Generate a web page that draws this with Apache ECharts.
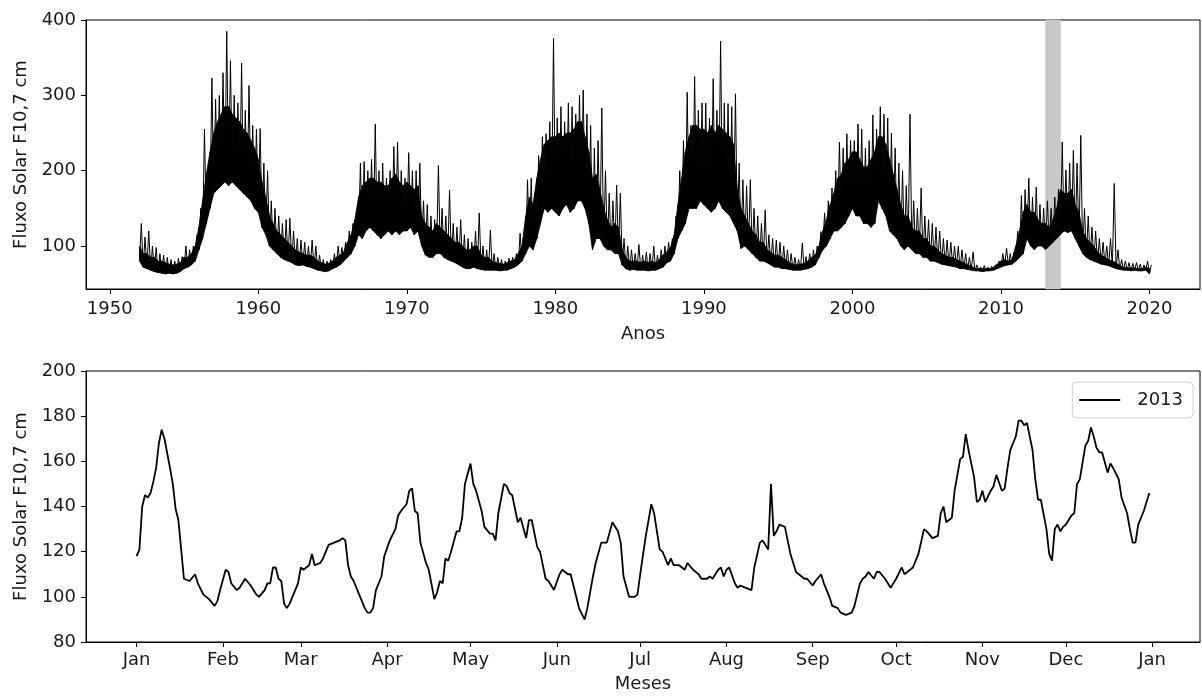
<!DOCTYPE html>
<html>
<head>
<meta charset="utf-8">
<script src="https://cdn.jsdelivr.net/npm/echarts@6/dist/echarts.min.js"></script>
<style>
html,body{margin:0;padding:0;background:#fff;}
#chart{width:1202px;height:696px;}
</style>
</head>
<body>
<div id="chart"></div>
<script>
// ---------- Top panel: daily F10.7 flux 1952-2020, summarised per quarter ----------
// fluxLow: lower edge of the daily trace, fluxBody: upper edge of its dense body,
// fluxHigh: highest daily spike in the quarter
var quarterStartYear = 1952;
var quarterStep = 0.25;
var fluxLow = [
  80,72,70,68,  66,65,64,63,  64,63,64,66,  70,72,75,80,  95,110,130,150,
  170,175,180,185,  180,185,180,175,  170,165,160,150,  145,125,115,100,  95,90,85,82,
  80,78,75,74,  75,73,72,70,  68,67,66,67,  70,72,75,80,  85,90,100,115,
  110,120,125,120,  115,110,115,120,  115,120,115,120,  120,125,115,120,  100,88,85,85,
  90,90,85,82,  80,78,75,72,  70,70,72,70,  69,68,68,68,  68,67,68,68,
  70,72,75,80,  90,100,95,110,  130,150,145,150,  145,140,150,155,  145,150,160,160,
  150,130,95,110,  110,100,95,95,  90,90,75,70,  68,69,68,68,  68,67,68,68,
  70,72,78,80,  90,110,120,130,  150,150,150,160,  155,150,145,150,  160,150,145,140,
  130,120,97,100,  95,90,85,80,  80,78,75,72,  72,70,70,69,  68,68,68,69,
  70,72,75,85,  95,100,110,120,  120,125,130,140,  150,140,140,130,  130,125,130,160,
  150,140,120,115,  110,100,95,100,  95,90,90,85,  85,80,80,78,  76,75,74,73,
  72,70,70,69,  68,67,67,66,  67,67,68,70,  72,74,75,76,  80,85,90,110,
  100,95,100,100,  95,100,105,110,  115,120,118,120,  110,100,90,85,  82,80,78,76,
  75,74,72,70,  69,68,68,67,  68,67,67,68,  63
];
var fluxBody = [
  100,90,90,85,  85,80,80,78,  76,75,76,78,  85,85,90,100,  125,160,195,225,
  250,265,275,285,  285,275,270,265,  255,250,240,230,  215,185,165,140,  130,120,115,110,
  105,100,95,92,  90,88,88,85,  80,78,76,77,  80,85,88,92,  105,115,135,165,
  180,185,190,190,  185,185,180,180,  190,195,185,180,  185,180,175,180,  140,130,125,120,
  130,125,120,115,  110,105,105,100,  95,95,100,100,  88,85,85,80,  78,77,76,78,
  80,82,90,100,  140,165,155,190,  215,235,240,245,  245,250,245,250,  250,255,265,265,
  245,225,190,195,  175,150,135,125,  130,125,95,85,  80,80,80,78,  80,78,80,78,
  82,88,92,98,  115,155,190,225,  245,260,260,255,  255,250,260,250,  260,255,250,245,
  235,175,150,140,  130,120,115,105,  105,95,92,88,  88,85,82,78,  76,75,76,77,
  80,85,88,100,  120,135,155,170,  190,195,210,215,  225,225,215,205,  205,215,225,245,
  245,235,215,195,  175,155,140,140,  125,120,120,110,  110,100,100,95,  90,88,85,85,
  82,80,78,75,  74,70,70,70,  70,70,72,76,  80,82,80,82,  100,120,145,155,
  145,145,135,130,  130,125,135,150,  175,170,170,175,  155,145,120,110,  105,100,92,88,
  85,82,80,78,  74,72,71,71,  71,70,70,72,  70
];
var fluxHigh = [
  130,112,120,100,  98,90,88,85,  82,80,84,86,  100,95,100,115,  150,255,200,323,
  295,300,330,385,  346,300,290,343,  280,313,260,255,  256,210,200,160,  150,140,130,135,
  137,120,110,108,  105,100,108,100,  88,82,80,82,  90,100,98,105,  120,130,145,210,
  212,200,215,262,  200,210,190,200,  232,238,200,190,  224,200,200,210,  160,155,140,135,
  207,150,140,174,  130,125,135,115,  110,105,120,144,  100,95,121,90,  85,82,80,84,
  85,90,117,110,  188,190,170,220,  245,249,265,376,  270,285,265,290,  285,275,300,307,
  275,260,230,240,  283,200,170,160,  181,170,110,100,  95,90,102,88,  92,90,100,88,
  95,100,105,110,  140,200,240,304,  260,325,280,290,  290,270,322,280,  372,290,289,285,
  302,210,188,180,  188,150,140,130,  148,115,110,108,  105,100,95,90,  85,82,104,86,
  90,95,100,119,  144,160,177,200,  238,230,249,240,  240,262,255,230,  240,274,255,285,
  275,270,250,230,  210,200,180,275,  160,150,177,140,  135,130,125,120,  110,108,105,100,
  100,95,90,85,  92,75,72,74,  72,73,75,80,  90,97,90,92,  120,167,175,190,
  165,178,155,150,  160,150,165,175,  238,201,210,227,  210,247,150,140,  125,120,110,105,
  100,110,183,95,  82,80,78,77,  78,76,75,80,  75
];
var yearTicks = [1950, 1960, 1970, 1980, 1990, 2000, 2010, 2020];
var topYTicks = [100, 200, 300, 400];
var topYRange = [43, 400];
var highlightYears = [2013, 2014];

// ---------- Bottom panel: 2013 daily values ----------
var days2013 = [
  0,1,2,3,4,5,6,7,8,9,10,12,13,14,15,16,17,19,21,22,24,26,28,29,30,32,33,34,36,37,39,41,43,44,46,47,48,49,50,51,52,53,54,55,56,58,59,60,62,63,64,66,67,68,69,71,73,74,75,76,77,78,80,82,83,84,85,86,88,89,91,93,94,95,97,98,99,
  100,101,102,104,105,107,108,109,110,111,112,113,115,116,117,118,120,121,122,124,125,127,128,129,130,132,133,134,135,137,138,140,141,142,144,145,147,148,150,152,153,155,156,158,159,161,162,164,165,167,169,171,173,174,175,177,179,180,181,183,185,186,187,188,189,191,192,193,195,197,198,
  200,202,203,205,206,207,209,210,211,212,213,215,216,217,219,221,222,224,225,227,228,229,230,231,233,235,237,239,240,241,243,244,246,247,249,250,252,253,255,257,258,260,261,262,263,265,266,267,269,271,273,275,276,277,278,279,281,283,284,286,288,289,290,291,293,294,296,297,298,299,
  301,302,303,304,305,307,308,309,311,312,313,314,316,317,318,319,320,322,323,324,325,327,328,329,330,331,332,333,334,336,337,338,339,341,342,343,344,345,346,347,349,350,351,353,354,356,357,358,359,360,362,364
];
var flux2013 = [
  118,121,140,145,144,146,151,157,168,174,170,157,150,139,134,121,108,107,110,106,101,99,96,98,103,112,111,106,103,104,108,105,101,100,103,106,106,113,113,108,107,97,95,97,100,106,113,112,114,119,114,115,117,120,123,124,125,126,125,114,109,107,101,95,93,93,95,103,109,118,125,130,136,138,141,147,148,
  138,137,124,115,112,99,102,107,106,117,116,120,129,129,135,150,159,150,147,138,131,128,128,125,137,150,149,146,145,133,135,126,134,134,122,120,108,107,103,110,112,110,110,100,95,90,95,109,115,124,124,133,129,124,109,100,100,101,110,127,141,137,129,121,120,114,117,114,114,112,115,
  112,110,108,108,109,108,112,113,109,112,113,106,104,105,104,103,113,124,125,121,150,127,129,132,131,119,111,109,108,108,105,107,110,106,100,96,95,93,92,93,96,106,108,109,111,108,111,111,108,104,108,113,110,111,112,113,119,130,129,126,127,137,140,133,135,147,161,162,172,165,
  153,142,143,147,142,147,149,154,147,148,157,165,171,178,178,176,177,165,152,143,143,130,119,116,130,132,129,131,132,136,137,150,152,167,169,175,171,166,164,164,155,159,157,152,144,137,130,124,124,132,138,146
];
var monthStarts = [0, 31, 59, 90, 120, 151, 181, 212, 243, 273, 304, 334, 365];
var monthNames = ['Jan','Feb','Mar','Apr','May','Jun','Jul','Aug','Sep','Oct','Nov','Dec','Jan'];
var bottomYTicks = [80, 100, 120, 140, 160, 180, 200];

// ---------- Build series data ----------
// one item per quarter: [t, low, body, high, tNext, lowNext, bodyNext]
var topItems = [];
for (var i = 0; i < fluxLow.length; i++) {
  var t = quarterStartYear + i * quarterStep;
  var last = (i + 1 >= fluxLow.length);
  topItems.push([
    t, fluxLow[i], fluxBody[i], fluxHigh[i],
    last ? t : t + quarterStep,
    last ? fluxLow[i] : fluxLow[i + 1],
    last ? fluxBody[i] : fluxBody[i + 1]
  ]);
}
var bottomData = days2013.map(function (d, k) { return [d, flux2013[k]]; });

var FONT = 'DejaVu Sans';
var TXT = '#1a1a1a';
var BAND = '#c8c8c8';

function renderTop(params, api) {
  var t = api.value(0), lo = api.value(1), bo = api.value(2), hi = api.value(3);
  var tn = api.value(4), lon = api.value(5), bon = api.value(6);
  var children = [];
  var tm = t + quarterStep / 2;
  // grey 2013 highlight, drawn only around the trace (above its top envelope and below its low edge)
  if (tn > t && t >= highlightYears[0] && tn <= highlightYears[1]) {
    children.push({type: 'polygon', z2: -100,
      shape: {points: [api.coord([t, topYRange[1]]), api.coord([tn, topYRange[1]]),
        api.coord([tn, bon]), api.coord([tm, hi]), api.coord([t, bo])]},
      style: {fill: BAND, stroke: BAND, lineWidth: 0.6}});
    children.push({type: 'polygon', z2: -100,
      shape: {points: [api.coord([t, lo]), api.coord([tn, lon]),
        api.coord([tn, topYRange[0]]), api.coord([t, topYRange[0]])]},
      style: {fill: BAND, stroke: BAND, lineWidth: 0.6}});
  }
  if (tn > t) {
    children.push({type: 'polygon', z2: 10,
      shape: {points: [api.coord([t, lo]), api.coord([tn, lon]), api.coord([tn, bon]), api.coord([t, bo])]},
      style: {fill: '#000', stroke: '#000', lineWidth: 0.8}});
  }
  var pts = [api.coord([t, lo]), api.coord([tm, hi])];
  if (tn > t) pts.push(api.coord([tn, lon]));
  children.push({type: 'polyline', z2: 20, shape: {points: pts},
    style: {fill: null, stroke: '#000', lineWidth: 1}});
  return {type: 'group', children: children};
}

var chart = echarts.init(document.getElementById('chart'), null, {renderer: 'canvas'});
chart.setOption({
  animation: false,
  backgroundColor: '#ffffff',
  textStyle: {fontFamily: FONT, color: TXT},
  grid: [
    {left: 86, top: 20, width: 1114, height: 269, show: true, borderColor: '#000', borderWidth: 1, backgroundColor: 'transparent'},
    {left: 86, top: 371, width: 1114, height: 271, show: true, borderColor: '#000', borderWidth: 1, backgroundColor: 'transparent'}
  ],
  legend: {
    data: ['2013'],
    right: 9, top: 382,
    itemWidth: 41, itemHeight: 14,
    padding: [9, 10, 9, 6],
    borderColor: '#d0d0d0', borderWidth: 1, borderRadius: 4,
    backgroundColor: 'rgba(255,255,255,0.8)',
    itemStyle: {opacity: 0},
    lineStyle: {color: '#000', width: 1.8},
    textStyle: {fontFamily: FONT, fontSize: 18, color: TXT, padding: [0, 0, 0, 12]}
  },
  xAxis: [
    {
      type: 'value', gridIndex: 0, min: 1948.4, max: 2023.4,
      name: 'Anos', nameLocation: 'middle', nameGap: 36,
      nameTextStyle: {fontFamily: FONT, fontSize: 18, color: TXT},
      axisLine: {show: true, onZero: false, lineStyle: {color: '#000', width: 1}},
      axisTick: {show: true, length: 5, lineStyle: {color: '#000'}, customValues: yearTicks},
      axisLabel: {fontFamily: FONT, fontSize: 18, color: TXT, margin: 11, customValues: yearTicks,
        formatter: function (v) { return String(v); }},
      splitLine: {show: false}
    },
    {
      type: 'value', gridIndex: 1, min: -18.2, max: 382.2,
      name: 'Meses', nameLocation: 'middle', nameGap: 33,
      nameTextStyle: {fontFamily: FONT, fontSize: 18, color: TXT},
      axisLine: {show: true, onZero: false, lineStyle: {color: '#000', width: 1}},
      axisTick: {show: true, length: 5, lineStyle: {color: '#000'}, customValues: monthStarts},
      axisLabel: {fontFamily: FONT, fontSize: 18, color: TXT, margin: 9, customValues: monthStarts,
        formatter: function (v) { var k = monthStarts.indexOf(v); return k >= 0 ? monthNames[k] : ''; }},
      splitLine: {show: false}
    }
  ],
  yAxis: [
    {
      type: 'value', gridIndex: 0, min: topYRange[0], max: topYRange[1],
      name: 'Fluxo Solar F10,7 cm', nameLocation: 'middle', nameGap: 56,
      nameTextStyle: {fontFamily: FONT, fontSize: 18, color: TXT},
      axisLine: {show: true, onZero: false, lineStyle: {color: '#000', width: 1}},
      axisTick: {show: true, length: 5, lineStyle: {color: '#000'}, customValues: topYTicks},
      axisLabel: {fontFamily: FONT, fontSize: 18, color: TXT, margin: 10, customValues: topYTicks},
      splitLine: {show: false}
    },
    {
      type: 'value', gridIndex: 1, min: 80, max: 200, interval: 20,
      name: 'Fluxo Solar F10,7 cm', nameLocation: 'middle', nameGap: 56,
      nameTextStyle: {fontFamily: FONT, fontSize: 18, color: TXT},
      axisLine: {show: true, onZero: false, lineStyle: {color: '#000', width: 1}},
      axisTick: {show: true, length: 5, lineStyle: {color: '#000'}, customValues: bottomYTicks},
      axisLabel: {fontFamily: FONT, fontSize: 18, color: TXT, margin: 10, customValues: bottomYTicks},
      splitLine: {show: false}
    }
  ],
  series: [
    {
      name: 'F10.7', type: 'custom', xAxisIndex: 0, yAxisIndex: 0, z: 3, silent: true,
      data: topItems,
      renderItem: renderTop
    },
    {
      name: '2013', type: 'line', xAxisIndex: 1, yAxisIndex: 1, z: 5,
      data: bottomData, symbol: 'none', silent: true,
      itemStyle: {color: '#000'},
      lineStyle: {color: '#000', width: 1.8}
    }
  ]
});
</script>
</body>
</html>
